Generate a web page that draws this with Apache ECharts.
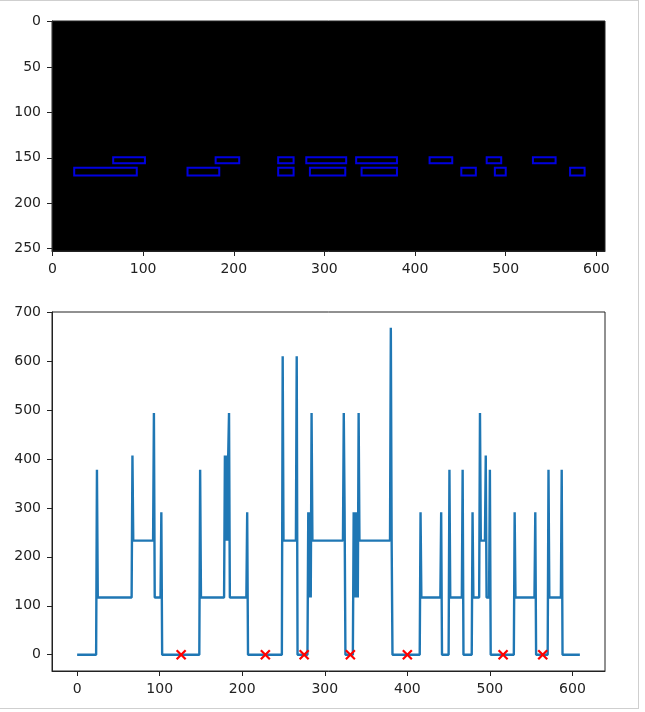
<!DOCTYPE html>
<html><head><meta charset="utf-8">
<script src="https://cdn.jsdelivr.net/npm/echarts@6/dist/echarts.min.js"></script>
<style>
html,body{margin:0;padding:0;background:#fff;}
#frame{position:absolute;left:-1px;top:0;width:638px;height:707px;border:1px solid #cfcfcf;}
#chart{position:absolute;left:0;top:0;width:645px;height:712px;}
</style></head><body>
<div id="frame"></div>
<div id="chart"></div>
<script>
// Top panel: detected boxes (image pixel coordinates)
const boxLeft   = [67, 180, 249, 280, 335, 416, 479, 530,   24, 149, 249, 284, 341, 451, 488, 571];
const boxRight  = [102, 206, 266, 324, 380, 441, 495, 555,  93, 184, 266, 323, 380, 467, 500, 587];
const boxTop    = [149.5, 149.5, 149.5, 149.5, 149.5, 149.5, 149.5, 149.5, 161, 161, 161, 161, 161, 161, 161, 161];
const boxBottom = [156, 156, 156, 156, 156, 156, 156, 156, 169.5, 169.5, 169.5, 169.5, 169.5, 169.5, 169.5, 169.5];

// Bottom panel: column profile (transition points)
const profileX = [0,23,24,25,66,67,68,92,93,94,101,102,103,
  148,149,150,178,179,180,181,182,183,184,185,205,206,207,
  248,249,250,265,266,267,
  279,280,281,282,283,284,285,322,323,324,325,
  334,335,336,337,338,339,340,341,342,379,380,381,382,
  415,416,417,440,441,442,
  450,451,452,466,467,468,
  478,479,480,487,488,489,494,495,496,499,500,501,
  529,530,531,554,555,556,
  570,571,572,586,587,588,609];
const profileY = [0,0,378,117,117,407,233,233,494,117,117,291,0,
  0,378,117,117,407,233,407,233,407,494,117,117,291,0,
  0,610,233,233,610,0,
  0,291,117,291,117,494,233,233,494,291,0,
  0,291,117,291,117,291,117,494,233,233,668,233,0,
  0,291,117,117,291,0,
  0,378,117,117,378,0,
  0,291,117,117,494,233,233,407,117,117,378,0,
  0,291,117,117,291,0,
  0,378,117,117,378,0,0];

// Minima markers
const markerX = [126, 228, 275, 331, 400, 516, 564];
const markerY = [0, 0, 0, 0, 0, 0, 0];

// Tick labels
const topXTicks = [0, 100, 200, 300, 400, 500, 600];
const topYTicks = [0, 50, 100, 150, 200, 250];
const botXTicks = [0, 100, 200, 300, 400, 500, 600];
const botYTicks = [0, 100, 200, 300, 400, 500, 600, 700];

const boxData = boxLeft.map((l, i) => [l, boxTop[i], boxRight[i], boxBottom[i]]);
const lineData = profileX.map((x, i) => [x, profileY[i]]);
const markData = markerX.map((x, i) => [x, markerY[i]]);

const font = {fontFamily: 'DejaVu Sans', fontSize: 14, color: '#222'};
function axis(gridIndex, min, max, ticks, extra) {
  return Object.assign({
    type: 'value', gridIndex, min, max,
    axisLine: {show: true, onZero: false, lineStyle: {color: '#222', width: 1}},
    axisTick: {show: true, length: 5, customValues: ticks, lineStyle: {color: '#222', width: 1}},
    axisLabel: Object.assign({customValues: ticks, margin: 11}, font),
    splitLine: {show: false}
  }, extra || {});
}

const chart = echarts.init(document.getElementById('chart'), null, {renderer: 'canvas'});
chart.setOption({
  animation: false,
  backgroundColor: 'transparent',
  grid: [
    {left: 52, top: 21, width: 553, height: 230, show: true, backgroundColor: '#000', borderColor: '#222', borderWidth: 1},
    {left: 52, top: 312, width: 553, height: 359, show: true, backgroundColor: '#fff', borderColor: '#222', borderWidth: 1}
  ],
  xAxis: [
    axis(0, -0.5, 609.5, topXTicks),
    axis(1, -30.45, 639.45, botXTicks)
  ],
  yAxis: [
    axis(0, -0.5, 252.5, topYTicks, {inverse: true}),
    axis(1, -33.35, 700.35, botYTicks)
  ],
  series: [
    {
      type: 'custom', xAxisIndex: 0, yAxisIndex: 0,
      data: boxData,
      encode: {x: [0, 2], y: [1, 3]},
      renderItem: function (params, api) {
        const p1 = api.coord([api.value(0), api.value(1)]);
        const p2 = api.coord([api.value(2), api.value(3)]);
        return {
          type: 'rect',
          shape: {x: Math.min(p1[0], p2[0]), y: Math.min(p1[1], p2[1]),
                  width: Math.abs(p2[0] - p1[0]), height: Math.abs(p2[1] - p1[1])},
          style: {fill: null, stroke: '#0000e0', lineWidth: 2}
        };
      }
    },
    {
      type: 'line', xAxisIndex: 1, yAxisIndex: 1,
      data: lineData, symbol: 'none',
      lineStyle: {color: '#1f77b4', width: 2.4},
      z: 2
    },
    {
      type: 'custom', xAxisIndex: 1, yAxisIndex: 1,
      data: markData,
      z: 3,
      renderItem: function (params, api) {
        const p = api.coord([api.value(0), api.value(1)]);
        const s = 4.5;
        const st = {stroke: '#ff0000', lineWidth: 2.2};
        return {
          type: 'group',
          children: [
            {type: 'line', shape: {x1: p[0] - s, y1: p[1] - s, x2: p[0] + s, y2: p[1] + s}, style: st},
            {type: 'line', shape: {x1: p[0] - s, y1: p[1] + s, x2: p[0] + s, y2: p[1] - s}, style: st}
          ]
        };
      }
    }
  ]
});
</script>
</body></html>
